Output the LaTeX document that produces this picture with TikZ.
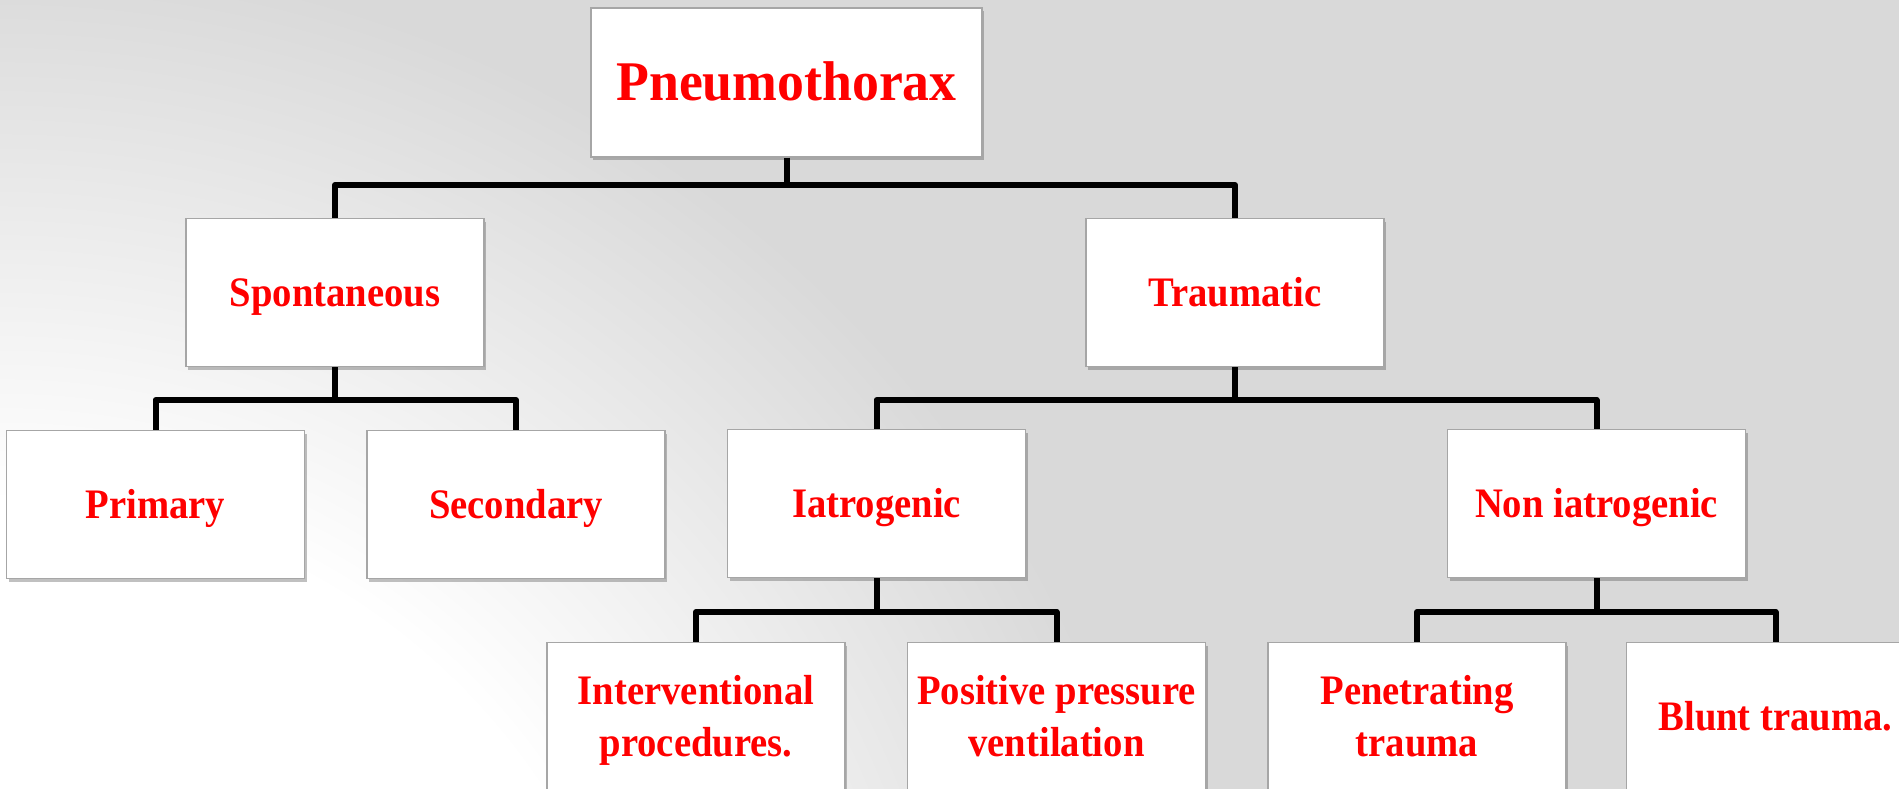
\documentclass[tikz,border=0pt]{standalone}
\usepackage{fontspec}
\setmainfont{Liberation Serif}
\newfontfamily\condfont[FakeStretch=0.92]{Liberation Serif}
\newfontfamily\titlefont[FakeStretch=0.96]{Liberation Serif}
\usetikzlibrary{shadows}
\definecolor{bggray}{HTML}{D9D9D9}
\definecolor{boxred}{HTML}{FF0000}
\definecolor{boxedge}{HTML}{A6A6A6}
\pgfdeclareradialshading{bgshade}{\pgfpoint{0bp}{0bp}}{color(0bp)=(white); color(13.5bp)=(white); color(25bp)=(bggray); color(50bp)=(bggray)}
\begin{document}
\begin{tikzpicture}[x=1pt,y=-1pt,
  box/.style={draw=boxedge, line width=1.5pt, fill=white,
    minimum width=298pt, minimum height=148pt, inner sep=0pt,
    text=boxred, align=center,
    font=\condfont\bfseries\fontsize{42}{52}\selectfont,
    drop shadow={shadow xshift=2pt, shadow yshift=-3pt, opacity=0.35, fill=black!70}},
  oneline/.style={text height=28pt, text depth=0pt},
  twoline/.style={text height=80pt, text depth=0pt},
  conn/.style={draw=black, line width=6pt, line join=round}]
\clip (0,0) rectangle (1899,789);
\fill[bggray] (0,0) rectangle (1899,789);
\shade[shading=bgshade] (0,1144) circle [radius=1190pt];

\coordinate (y1) at (0,185);
\coordinate (y2) at (0,400);
\coordinate (y3) at (0,612);

\node[box, oneline, minimum width=391pt, minimum height=149pt,
  text height=37pt, font=\titlefont\bfseries\fontsize{56}{66}\selectfont] (top) at (786.5,82.5) {Pneumothorax};
\node[box, oneline] (spont) at (335,292.5) {Spontaneous};
\node[box, oneline] (traum) at (1235,292.5) {Traumatic};
\node[box, oneline] (prim) at (155.5,504.5) {Primary};
\node[box, oneline] (sec) at (516,504.5) {Secondary};
\node[box, oneline] (iat) at (876.5,503.5) {Iatrogenic};
\node[box, oneline] (noniat) at (1596.5,503.5) {Non iatrogenic};
\node[box, twoline] (interv) at (696,716.5) {Interventional\\procedures.};
\node[box, twoline] (pos) at (1056.5,716.5) {Positive pressure\\ventilation};
\node[box, twoline] (pen) at (1417,716.5) {Penetrating\\trauma};
\node[box, oneline] (blunt) at (1775.5,716.5) {Blunt trauma.};

\draw[conn] (top.south) -- (top.south |- y1);
\draw[conn] (spont.north) |- (top.south |- y1) -| (traum.north);

\draw[conn] (spont.south) -- (spont.south |- y2);
\draw[conn] (prim.north) |- (spont.south |- y2) -| (sec.north);

\draw[conn] (traum.south) -- (traum.south |- y2);
\draw[conn] (iat.north) |- (traum.south |- y2) -| (noniat.north);

\draw[conn] (iat.south) -- (iat.south |- y3);
\draw[conn] (interv.north) |- (iat.south |- y3) -| (pos.north);

\draw[conn] (noniat.south) -- (noniat.south |- y3);
\draw[conn] (pen.north) |- (noniat.south |- y3) -| (blunt.north);
\end{tikzpicture}
\end{document}
